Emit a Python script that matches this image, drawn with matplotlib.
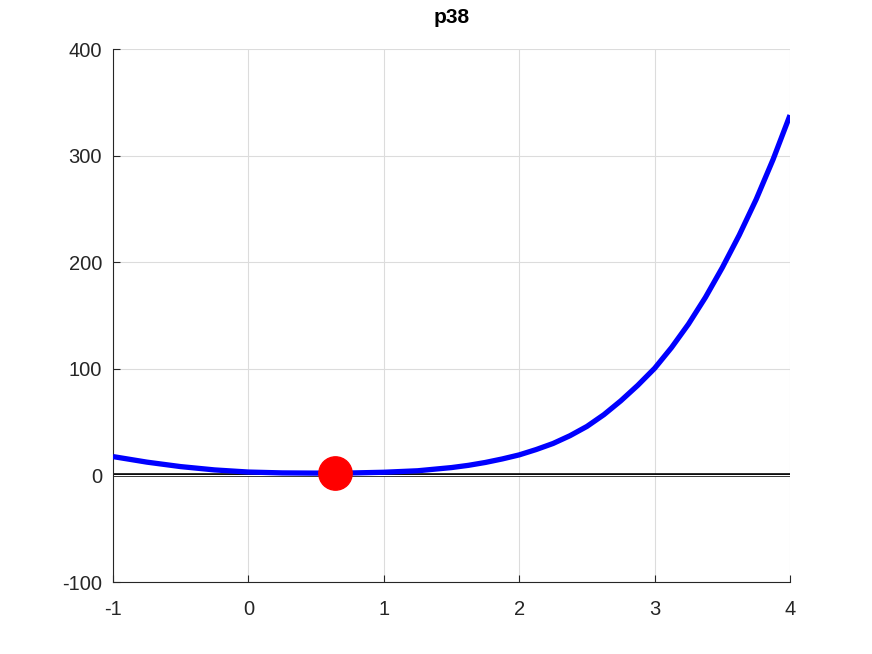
import matplotlib
matplotlib.use("Agg")
import matplotlib.pyplot as plt

# curve values
x_vals = [-1.0, -0.75, -0.5, -0.25, 0.0, 0.25, 0.5, 0.75, 1.0, 1.25, 1.5,
          1.625, 1.75, 1.875, 2.0, 2.125, 2.25, 2.375, 2.5, 2.625, 2.75,
          2.875, 3.0, 3.125, 3.25, 3.375, 3.5, 3.625, 3.75, 3.875, 4.0]
y_vals = [17.7, 12.5, 8.3, 5.2, 3.2, 2.4, 2.2, 2.3, 3.0, 4.4, 7.4,
          9.5, 12.2, 15.5, 19.3, 24.3, 30.0, 37.3, 46.0, 57.0, 70.0,
          84.5, 100.5, 120.0, 142.0, 167.0, 195.0, 225.5, 259.0, 296.5, 338.0]

# minimum point
min_x = [0.64]
min_y = [2.0]

# zero line
zero_x = [-1, 4]
zero_y = [0, 0]

x_ticks = [-1, 0, 1, 2, 3, 4]
y_ticks = [-100, 0, 100, 200, 300, 400]

plt.rcParams['font.family'] = ['Liberation Sans', 'DejaVu Sans']

fig = plt.figure(figsize=(8.72, 6.54), dpi=100)
ax = fig.add_axes([0.1296, 0.110, 0.7764, 0.815])

ax.plot(zero_x, zero_y, color='black', lw=2.6, zorder=2)
ax.plot(zero_x, zero_y, color='white', lw=0.8, zorder=2.1)
ax.plot(x_vals, y_vals, color='#0000ff', lw=3.8, zorder=3,
        solid_joinstyle='round', solid_capstyle='butt')
ax.plot(min_x, min_y, 'o', color='#ff0000', markersize=24, zorder=4)

ax.set_xlim(-1, 4)
ax.set_ylim(-100, 400)
ax.set_xticks(x_ticks)
ax.set_yticks(y_ticks)
ax.set_xticklabels([str(t) for t in x_ticks])
ax.set_yticklabels([str(t) for t in y_ticks])

ax.grid(True, color='#dcdcdc', lw=0.8)
ax.set_axisbelow(True)
ax.spines['top'].set_visible(False)
ax.spines['right'].set_visible(False)
ax.spines['left'].set_color('#262626')
ax.spines['bottom'].set_color('#262626')
ax.tick_params(direction='in', length=5, width=0.8, labelsize=14.5,
               colors='#262626')
ax.tick_params(axis='x', pad=13)
ax.tick_params(axis='y', pad=8)

ax.set_title('p38', fontsize=15, fontweight='bold', pad=19)

fig.savefig('out.png', dpi=100)
